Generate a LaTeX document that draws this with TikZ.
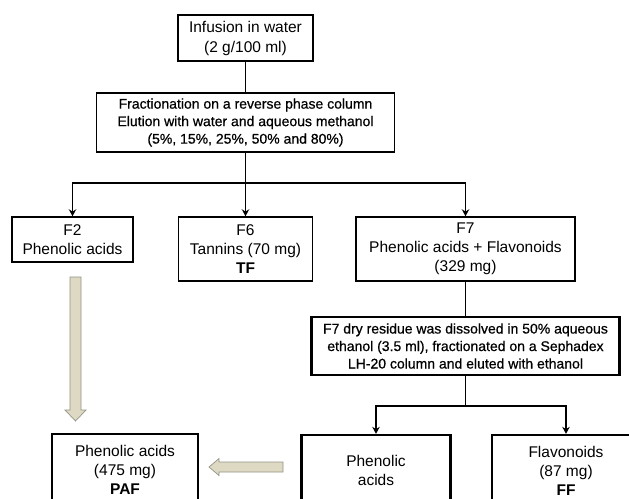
\documentclass[tikz,border=0pt]{standalone}
\usepackage{fontspec}
\setmainfont{Liberation Sans}
\newfontfamily\medfont{Liberation Sans}[FakeBold=0.6]
\usetikzlibrary{arrows.meta}
\definecolor{beige}{RGB}{221,217,195}
\definecolor{beigeline}{RGB}{150,148,135}
\begin{document}
\begin{tikzpicture}[x=1pt,y=-1pt,
  box/.style={draw, line width=1.5pt, align=center, inner sep=0pt, font=\fontsize{15.5}{19}\selectfont},
  thickbox/.style={box, line width=2.3pt},
  smalltext/.style={font=\medfont\fontsize{14}{17.5}\selectfont},
  conn/.style={line width=1.8pt},
  thinconn/.style={line width=0.9pt},
  arr/.style={line width=1.8pt, -{Stealth[length=7pt,width=7.5pt]}},
  barrow/.style={fill=beige, draw=beigeline, line width=0.7pt}]
\useasboundingbox (0,0) rectangle (629,498);
\fill[white] (0,0) rectangle (629,498);

\node[box, minimum width=135pt, minimum height=46pt, font=\fontsize{15.5}{20}\selectfont] (inf) at (245.5,38) {Infusion in water\\(2 g/100 ml)};
\node[box, smalltext, minimum width=298pt, minimum height=59pt] (frac) at (245.5,122.5) {Fractionation on a reverse phase column\\Elution with water and aqueous methanol\\(5\%, 15\%, 25\%, 50\% and 80\%)};

\node[box, minimum width=121pt, minimum height=45pt] (f2) at (72.5,239.5) {F2\\Phenolic acids};
\node[box, minimum width=134pt, minimum height=64pt] (f6) at (245.5,249) {F6\\Tannins (70 mg)\\\textbf{TF}};
\node[box, minimum width=219pt, minimum height=64pt] (f7) at (465.5,249) {F7\\Phenolic acids + Flavonoids\\(329 mg)};

\node[thickbox, smalltext, minimum width=308pt, minimum height=58pt] (dry) at (465.5,346) {F7 dry residue was dissolved in 50\% aqueous\\ethanol (3.5 ml), fractionated on a Sephadex\\LH-20 column and eluted with ethanol};

\node[thickbox, minimum width=149pt, minimum height=70pt] (phen) at (376,470) {Phenolic\\acids};
\node[thickbox, minimum width=148pt, minimum height=72pt] (flav) at (566,471) {Flavonoids\\(87 mg)\\\textbf{FF}};
\node[thickbox, minimum width=146pt, minimum height=71pt] (paf) at (125,469.5) {Phenolic acids\\(475 mg)\\\textbf{PAF}};

\coordinate (j1) at (245.5,183);
\coordinate (j2) at (465.5,406);

\draw[conn] (inf) -- (frac);
\draw[conn] (frac) -- (j1);
\draw[conn] (f2.north |- j1) -- (f7.north |- j1);
\draw[arr] (j1) -| (f2.north);
\draw[arr] (j1) -- (f6.north);
\draw[arr] (j1) -| (f7.north);
\draw[thinconn] (f7) -- (dry);
\draw[conn] (dry) -- (j2);
\draw[conn] (phen.north |- j2) -- (flav.north |- j2);
\draw[arr] (j2) -| (phen.north);
\draw[arr] (j2) -| (flav.north);

\draw[barrow] (70,277) -- (81,277) -- (81,410) -- (86,410) -- (75.5,421) -- (65,410) -- (70,410) -- cycle;
\draw[barrow] (283,462) -- (219,462) -- (219,458.5) -- (209,467) -- (219,475.5) -- (219,472) -- (283,472) -- cycle;
\end{tikzpicture}
\end{document}
